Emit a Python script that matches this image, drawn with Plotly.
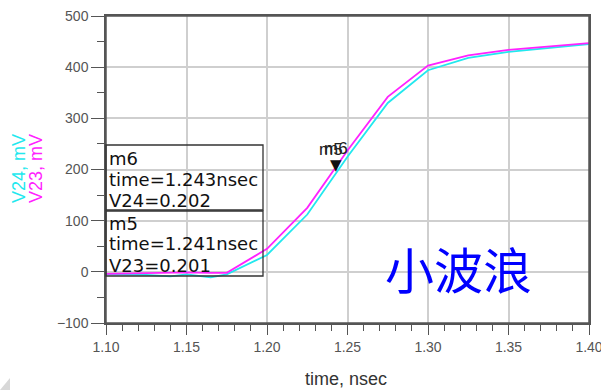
import plotly.graph_objects as go

# ---- data ----
time_ns = [1.10, 1.125, 1.14, 1.15, 1.165, 1.175, 1.20, 1.225, 1.25, 1.275, 1.30, 1.325, 1.35, 1.375, 1.40]
v23_mv = [-4, -3, -2, -1, -2, -2, 45, 125, 237, 342, 403, 423, 434, 440, 447]
v24_mv = [-5, -6, -9, -5, -11, -5, 33, 112, 225, 330, 394, 418, 430, 437, 445]

x_ticks = [1.10, 1.15, 1.20, 1.25, 1.30, 1.35, 1.40]
y_ticks = [-100, 0, 100, 200, 300, 400, 500]

m5 = {"name": "m5", "time": 1.241, "label": "V23", "value": 0.201}
m6 = {"name": "m6", "time": 1.243, "label": "V24", "value": 0.202}

CYAN = "#22e8ee"
MAGENTA = "#ff22ff"

fig = go.Figure()
fig.add_trace(go.Scatter(x=time_ns, y=v24_mv, mode="lines", line=dict(color=CYAN, width=1.8), name="V24"))
fig.add_trace(go.Scatter(x=time_ns, y=v23_mv, mode="lines", line=dict(color=MAGENTA, width=1.8), name="V23"))

tickfont = dict(family="Liberation Sans, Arial", size=14, color="#555555")
fig.update_xaxes(
    range=[1.10, 1.40], tickvals=x_ticks, ticktext=[f"{v:.2f}" for v in x_ticks],
    ticks="outside", ticklen=10, tickcolor="#555555", tickwidth=1.3,
    minor=dict(dtick=0.01, tick0=1.10, ticks="outside", ticklen=6, tickcolor="#555555", showgrid=False),
    showgrid=True, gridcolor="#cfcfcf", gridwidth=1.5,
    showline=True, linecolor="#555555", linewidth=1.5, mirror=True,
    tickfont=tickfont, zeroline=False, automargin=False, ticklabeloverflow="allow",
)
fig.update_yaxes(
    range=[-100, 500], tickvals=y_ticks,
    ticks="outside", ticklen=13, tickcolor="#555555", tickwidth=1.3,
    minor=dict(dtick=50, tick0=0, ticks="outside", ticklen=7, tickcolor="#555555", showgrid=False),
    showgrid=True, gridcolor="#cfcfcf", gridwidth=1.5,
    showline=True, linecolor="#555555", linewidth=1.5, mirror=True,
    tickfont=tickfont, zeroline=False, automargin=False, ticklabeloverflow="allow",
)

annotations = []
def paper_text(px, py, text, font, angle=0):
    annotations.append(dict(x=(px - 106) / 483, y=(323 - py) / 307, xref="paper", yref="paper",
                            xanchor="center", yanchor="middle", text=text, showarrow=False,
                            textangle=angle, font=font))

# axis titles
paper_text(346, 379, "time, nsec", dict(family="Liberation Sans, Arial", size=18, color="#333333"))
paper_text(19, 169, "V24, mV", dict(family="Liberation Sans, Arial", size=18, color=CYAN), -90)
paper_text(36, 169, "V23, mV", dict(family="Liberation Sans, Arial", size=18, color=MAGENTA), -90)

# marker readout boxes
box_font = dict(family="DejaVu Sans", size=18, color="#111111")
def box_lines(mk, centers):
    lines = [mk["name"], f"time={mk['time']:.3f}nsec", f"{mk['label']}={mk['value']:.3f}"]
    for txt, cy in zip(lines, centers):
        annotations.append(dict(x=(107 - 106) / 483, y=(323 - cy) / 307, xref="paper", yref="paper",
                                xanchor="left", yanchor="middle", text=txt, showarrow=False, font=box_font))

box_lines(m6, [158, 179, 200])
box_lines(m5, [223, 243, 265])

shapes = [
    dict(type="rect", xref="paper", yref="paper", x0=0, x1=1, y0=0, y1=1,
         line=dict(color="#555555", width=1.5), layer="above"),
    dict(type="rect", xref="paper", yref="paper", x0=0, x1=(263 - 106) / 483,
         y0=(323 - 210) / 307, y1=(323 - 145) / 307, line=dict(color="#333333", width=1.3)),
    dict(type="rect", xref="paper", yref="paper", x0=0, x1=(263 - 106) / 483,
         y0=(323 - 276) / 307, y1=(323 - 211) / 307, line=dict(color="#333333", width=1.3)),
    dict(type="path", xref="paper", yref="paper",
         path=f"M {(0-106)/483} {(323-390)/307} L {(10-106)/483} {(323-390)/307} L {(10-106)/483} {(323-378)/307} Z",
         fillcolor="#d8d8d8", line=dict(width=0)),
]

# marker triangle and labels
annotations.append(dict(x=m6["time"], y=m6["value"] * 1000, xref="x", yref="y", text="▼",
                        showarrow=False, xanchor="center", yanchor="bottom", yshift=-8,
                        font=dict(family="DejaVu Sans", size=15, color="#111111")))
for mk, dx in ((m5, -2), (m6, 0)):
    annotations.append(dict(x=mk["time"], y=mk["value"] * 1000, xref="x", yref="y", text=mk["name"],
                            showarrow=False, xanchor="center", yanchor="bottom", yshift=8, xshift=dx,
                            font=dict(family="Liberation Sans, Arial", size=17, color="#222222")))

# Chinese label
paper_text(458, 267, "小波浪", dict(family="Noto Sans CJK SC", size=49, color="#0000ff"))

fig.update_layout(
    width=601, height=390,
    margin=dict(l=106, r=12, t=16, b=67),
    plot_bgcolor="white", paper_bgcolor="white",
    showlegend=False,
    annotations=annotations, shapes=shapes,
)

fig.write_html("out.html", config={"displayModeBar": False},
               post_script="document.body.style.margin='0px';document.body.style.overflow='hidden';")
